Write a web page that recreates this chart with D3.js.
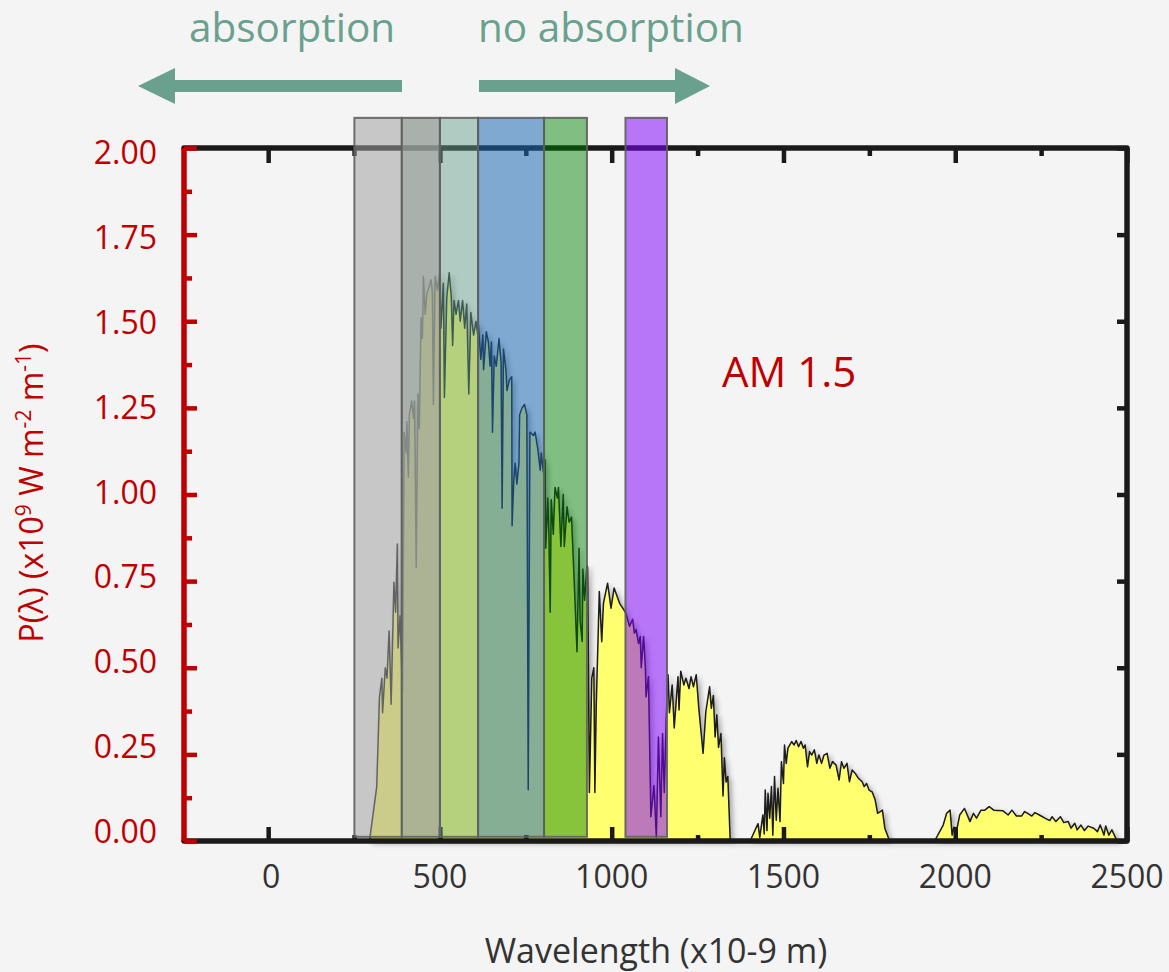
<!DOCTYPE html>
<html>
<head>
<meta charset="utf-8">
<script src="https://cdn.jsdelivr.net/npm/d3@7"></script>
<style>
  body { margin: 0; background: #f4f4f4; }
  svg { display: block; }
  text { font-family: "Open Sans", sans-serif; }
</style>
</head>
<body>
<div id="chart"></div>
<script>
// AM 1.5 spectrum: wavelength (nm) and power
const wavelength = [295, 316, 324, 331, 333, 341, 346, 352, 358, 366, 371, 376, 378, 384, 391, 396, 402, 404, 408, 411,
  418, 423, 426, 431, 436, 440, 445, 449, 452, 457, 462, 469, 474, 478, 481, 486, 493, 499, 503, 510,
  513, 520, 527, 533, 537, 541, 547, 554, 559, 566, 572, 578, 584, 590, 598, 605, 610, 612, 619, 625,
  627, 635, 641, 646, 650, 653, 658, 664, 672, 678, 681, 685, 692, 695, 702, 709, 710, 715, 719, 724,
  730, 732, 739, 746, 753, 757, 762, 772, 777, 785, 792, 795, 801, 806, 808, 814, 817, 821, 824, 830,
  835, 842, 845, 852, 859, 862, 870, 876, 883, 891, 899, 905, 908, 914, 916, 921, 928, 930, 935, 942,
  948, 951, 955, 964, 971, 976, 988, 998, 1007, 1023, 1040, 1052, 1061, 1066, 1071, 1078, 1083, 1086, 1093, 1098,
  1100, 1107, 1114, 1123, 1130, 1136, 1143, 1148, 1153, 1159, 1164, 1168, 1176, 1182, 1193, 1196, 1201, 1210, 1216, 1225,
  1231, 1238, 1246, 1254, 1266, 1274, 1285, 1290, 1296, 1301, 1306, 1311, 1318, 1324, 1328, 1333, 1338, 1345,
  1403, 1426, 1431, 1440, 1444, 1447, 1452, 1455, 1460, 1465, 1469, 1474, 1479, 1484, 1490, 1494, 1500, 1503, 1508, 1513,
  1518, 1524, 1531, 1537, 1544, 1551, 1558, 1563, 1570, 1576, 1582, 1590, 1597, 1603, 1611, 1618, 1627, 1635, 1643, 1653,
  1662, 1669, 1676, 1685, 1692, 1700, 1709, 1718, 1729, 1735, 1742, 1749, 1758, 1767, 1774, 1782, 1788, 1795, 1809,
  1940, 1965, 1975, 1985, 1991, 1996, 2004, 2013, 2027, 2043, 2053, 2062, 2075, 2086, 2099, 2112, 2139, 2154, 2165, 2178,
  2193, 2202, 2212, 2223, 2232, 2245, 2261, 2275, 2282, 2293, 2306, 2316, 2329, 2337, 2348, 2355, 2366, 2376, 2387, 2403,
  2414, 2422, 2433, 2438, 2447, 2456, 2471];

const power = [0, 0.156, 0.416, 0.47, 0.37, 0.50, 0.47, 0.606, 0.395, 0.747, 0.66, 0.857, 0.557, 0.65, 0.427, 1.18, 1.12, 1.21, 1.05, 1.23,
  1.27, 1.22, 1.27, 0.79, 1.29, 1.19, 1.51, 1.45, 1.63, 1.52, 1.58, 1.60, 1.62, 1.58, 1.26, 1.63, 1.59, 1.64, 1.48, 1.61,
  1.28, 1.57, 1.64, 1.57, 1.43, 1.56, 1.52, 1.56, 1.50, 1.56, 1.48, 1.55, 1.29, 1.525, 1.46, 1.50, 1.46, 1.49, 1.39, 1.46,
  1.36, 1.47, 1.44, 1.37, 1.44, 1.18, 1.40, 1.37, 1.45, 1.38, 0.96, 1.42, 1.36, 1.30, 1.33, 1.34, 0.91, 1.04, 1.09, 1.03,
  1.09, 1.23, 1.25, 1.26, 1.23, 0.148, 1.18, 1.17, 1.18, 1.13, 1.07, 1.12, 1.065, 1.10, 0.845, 0.99, 0.885, 0.66, 0.985, 0.885,
  1.02, 0.99, 1.02, 0.85, 1.00, 0.85, 0.965, 0.92, 0.935, 0.745, 0.546, 0.845, 0.636, 0.576, 0.785, 0.695, 0.795, 0.79, 0.14, 0.47,
  0.50, 0.14, 0.39, 0.72, 0.575, 0.686, 0.744, 0.672, 0.73, 0.686, 0.66, 0.62, 0.64, 0.60, 0.61, 0.57, 0.59, 0.50, 0.59, 0.50,
  0.416, 0.474, 0.07, 0.16, 0.01, 0.30, 0.07, 0.31, 0.14, 0.36, 0.48, 0.37, 0.45, 0.326, 0.474, 0.378, 0.49, 0.45, 0.47, 0.44,
  0.474, 0.445, 0.48, 0.378, 0.253, 0.373, 0.445, 0.383, 0.42, 0.30, 0.364, 0.27, 0.31, 0.13, 0.24, 0.17, 0.186, 0,
  0, 0.05, 0.01, 0.075, 0.02, 0.147, 0.03, 0.138, 0.066, 0.157, 0.017, 0.186, 0.06, 0.152, 0.056, 0.229, 0.166, 0.277, 0.224, 0.268,
  0.277, 0.287, 0.277, 0.29, 0.272, 0.287, 0.268, 0.277, 0.214, 0.258, 0.248, 0.263, 0.224, 0.248, 0.224, 0.248, 0.253, 0.21, 0.229, 0.219,
  0.176, 0.229, 0.21, 0.224, 0.171, 0.205, 0.195, 0.181, 0.171, 0.157, 0.166, 0.147, 0.142, 0.118, 0.08, 0.085, 0.089, 0.037, 0,
  0, 0.046, 0.08, 0.089, 0.017, 0.04, 0.03, 0.075, 0.094, 0.056, 0.08, 0.066, 0.089, 0.089, 0.099, 0.089, 0.087, 0.075, 0.089, 0.072,
  0.072, 0.085, 0.079, 0.072, 0.082, 0.075, 0.066, 0.059, 0.07, 0.056, 0.07, 0.053, 0.056, 0.037, 0.051, 0.032, 0.046, 0.03, 0.043, 0.037,
  0.027, 0.046, 0.017, 0.043, 0.017, 0.032, 0];

// coloured absorption bands (nm)
const bandStart = [251, 389, 500, 611, 803, 1040];
const bandEnd = [389, 500, 611, 803, 928, 1161];
const bandColor = ["#a1a1a1", "#9aa29c", "#679e8d", "#1d6ab4", "#008100", "#7e00fb"];
const bandOpacity = [0.54, 0.82, 0.48, 0.54, 0.47, 0.52];
const bandTop = 2.087, bandBottom = 0.012;

const xMajor = [0, 500, 1000, 1500, 2000, 2500];
const xMinor = [250, 750, 1250, 1750, 2250];
const yMajor = [0, 0.25, 0.5, 0.75, 1, 1.25, 1.5, 1.75, 2];
const yMinor = [0.125, 0.375, 0.625, 0.875, 1.125, 1.375, 1.625, 1.875];

const W = 1169, H = 972;
const red = "#c00000", ink = "#1a1a1a", teal = "#6aa08e";

const svg = d3.select("#chart").append("svg")
    .attr("width", W)
    .attr("height", H);

svg.append("rect").attr("width", W).attr("height", H).attr("fill", "#f4f4f4");

const x = d3.scaleLinear().domain([-245, 2500]).range([184, 1127]);
const y = d3.scaleLinear().domain([0, 2]).range([841, 148]);
// tick labels sit a little off the ticks in the original
const yLab = d3.scaleLinear().domain([0, 2]).range([832, 153]);

const defs = svg.append("defs");
defs.append("filter").attr("id", "shadow")
    .attr("x", "-5%").attr("y", "-5%").attr("width", "110%").attr("height", "110%")
  .append("feDropShadow")
    .attr("dx", 3).attr("dy", 3).attr("stdDeviation", 2.5)
    .attr("flood-color", "#000").attr("flood-opacity", 0.3);

// spectrum
const spec = wavelength.map((w, i) => ({w: w, p: power[i]}));

const specG = svg.append("g").attr("filter", "url(#shadow)");
specG.append("path")
    .datum(spec)
    .attr("fill", "#ffff70")
    .attr("d", d3.area().x(d => x(d.w)).y0(y(0)).y1(d => y(d.p)));
specG.append("path")
    .datum(spec)
    .attr("fill", "none")
    .attr("stroke", ink)
    .attr("stroke-width", 1.5)
    .attr("stroke-linejoin", "round")
    .attr("d", d3.line().x(d => x(d.w)).y(d => y(d.p)));

// frame
svg.append("path")
    .attr("d", `M${x.range()[0]},${y(2)}H${x.range()[1]}V${y(0)}H${x.range()[0]}`)
    .attr("fill", "none")
    .attr("stroke", ink)
    .attr("stroke-width", 5.5)
    .attr("stroke-linejoin", "round")
    .attr("stroke-linecap", "round");

const tickAxis = (axis, tr, color) => {
    const g = svg.append("g").attr("transform", tr).call(axis);
    g.select(".domain").remove();
    g.selectAll(".tick text").remove();
    g.selectAll(".tick line").attr("stroke", color).attr("stroke-width", 4.5);
    return g;
};

tickAxis(d3.axisBottom(x).tickValues(xMajor).tickSize(15), `translate(0,${y(2)})`, ink);
tickAxis(d3.axisBottom(x).tickValues(xMinor).tickSize(8), `translate(0,${y(2)})`, ink);
tickAxis(d3.axisTop(x).tickValues(xMajor).tickSize(14), `translate(0,${y(0)})`, ink);
tickAxis(d3.axisTop(x).tickValues(xMinor).tickSize(6), `translate(0,${y(0)})`, ink);
tickAxis(d3.axisLeft(y).tickValues(yMajor).tickSize(10), `translate(${x.range()[1]},0)`, ink);

// red left axis
svg.append("line")
    .attr("x1", x.range()[0]).attr("x2", x.range()[0])
    .attr("y1", y(2)).attr("y2", y(0))
    .attr("stroke", red)
    .attr("stroke-width", 5.5);
tickAxis(d3.axisRight(y).tickValues(yMajor).tickSize(13), `translate(${x.range()[0]},0)`, red);
tickAxis(d3.axisRight(y).tickValues(yMinor).tickSize(8), `translate(${x.range()[0]},0)`, red);

// bands on top
svg.append("g").selectAll("rect")
    .data(bandStart)
    .join("rect")
    .attr("x", d => x(d))
    .attr("width", (d, i) => x(bandEnd[i]) - x(d))
    .attr("y", y(bandTop))
    .attr("height", y(bandBottom) - y(bandTop))
    .attr("fill", (d, i) => bandColor[i])
    .attr("fill-opacity", (d, i) => bandOpacity[i])
    .attr("stroke", "#5f5f5f")
    .attr("stroke-opacity", 0.9)
    .attr("stroke-width", 2);

// tick labels
svg.append("g").selectAll("text")
    .data(yMajor)
    .join("text")
    .attr("x", 157)
    .attr("y", d => yLab(d) + 11)
    .attr("text-anchor", "end")
    .attr("fill", red)
    .attr("font-size", 32)
    .text(d3.format(".2f"));

svg.append("g").selectAll("text")
    .data(xMajor)
    .join("text")
    .attr("x", d => x(d) + (d === 0 ? 3 : 0))
    .attr("y", 888)
    .attr("text-anchor", "middle")
    .attr("fill", "#333")
    .attr("font-size", 32)
    .text(d => d);

// axis titles
svg.append("text")
    .attr("x", 656)
    .attr("y", 963)
    .attr("text-anchor", "middle")
    .attr("fill", "#333")
    .attr("font-size", 34)
    .text("Wavelength (x10-9 m)");

const yt = svg.append("text")
    .attr("transform", "translate(43,493) rotate(-90)")
    .attr("text-anchor", "middle")
    .attr("fill", red)
    .attr("font-size", 32);
yt.append("tspan").text("P(λ) (x10");
yt.append("tspan").attr("font-size", 21).attr("dy", -12).text("9");
yt.append("tspan").attr("dy", 12).text(" W m");
yt.append("tspan").attr("font-size", 21).attr("dy", -12).text("-2");
yt.append("tspan").attr("dy", 12).text(" m");
yt.append("tspan").attr("font-size", 21).attr("dy", -12).text("-1");
yt.append("tspan").attr("dy", 12).text(")");

svg.append("text")
    .attr("x", 722)
    .attr("y", 387)
    .attr("fill", red)
    .attr("font-size", 42)
    .text("AM 1.5");

// absorption arrows
const arrowY = 86;
svg.append("path")
    .attr("fill", teal)
    .attr("d", `M138,${arrowY}L175,${arrowY - 18}V${arrowY - 6}H402V${arrowY + 6}H175V${arrowY + 18}Z`);
svg.append("path")
    .attr("fill", teal)
    .attr("d", `M710,${arrowY}L675,${arrowY - 18}V${arrowY - 6}H479V${arrowY + 6}H675V${arrowY + 18}Z`);

svg.append("text")
    .attr("x", 189).attr("y", 42)
    .attr("fill", teal)
    .attr("font-size", 40.5)
    .text("absorption");
svg.append("text")
    .attr("x", 478).attr("y", 42)
    .attr("fill", teal)
    .attr("font-size", 40.5)
    .text("no absorption");
</script>
</body>
</html>
